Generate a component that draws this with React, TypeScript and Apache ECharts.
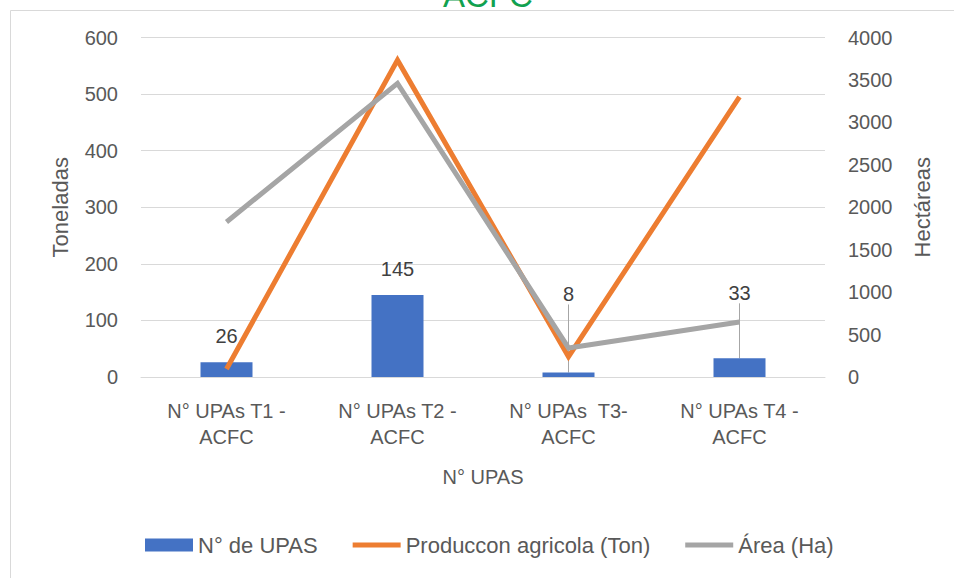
import React, { useEffect, useRef } from "react";
import * as echarts from "echarts";

// Category labels (two lines each, as printed under the axis)
const categories = [
  "N° UPAs T1 -\nACFC",
  "N° UPAs T2 -\nACFC",
  "N° UPAs  T3-\nACFC",
  "N° UPAs T4 -\nACFC",
];

// Number of UPAs per group (bars, left axis)
const upas = [26, 145, 8, 33];
// Agricultural production in tonnes (orange line, left axis)
const produccion = [14, 560, 36, 495];
// Area in hectares (grey line, right axis)
const area = [1826, 3460, 342, 648];

const leftTicks = { min: 0, max: 600, interval: 100 };
const rightTicks = { min: 0, max: 4000, interval: 500 };

// Extra upward shift for the bar labels that sit on leader lines
const labelShift = [0, 0, -52, -39];

const FONT = "Liberation Sans";
const GREY_TEXT = "#595959";
const LINE_ICON = "path://M0,0H50V5H0Z";

export default function App() {
  const ref = useRef<HTMLDivElement>(null);

  useEffect(() => {
    if (!ref.current) return;
    const chart = echarts.init(ref.current, undefined, { renderer: "svg" });

    const barData = upas.map((v, i) => ({
      value: v,
      labelLine: { show: labelShift[i] !== 0 },
    }));

    chart.setOption({
      animation: false,
      backgroundColor: "#ffffff",
      textStyle: { fontFamily: FONT },
      graphic: [
        {
          type: "rect",
          shape: { x: 10.5, y: 10.5, width: 960, height: 600 },
          style: { fill: "none", stroke: "#D9D9D9", lineWidth: 1 },
          silent: true,
        },
        {
          type: "text",
          x: 488,
          y: 12,
          style: {
            text: "ACFC",
            fill: "#11A14F",
            font: `33px "${FONT}"`,
            align: "center",
            verticalAlign: "bottom",
          },
        },
      ],
      grid: { left: 141, right: 129, top: 37.5, bottom: 201, containLabel: false },
      legend: {
        left: 145,
        top: 534,
        padding: 0,
        itemWidth: 48,
        itemHeight: 13,
        itemGap: 35,
        textStyle: { color: GREY_TEXT, fontSize: 22, fontFamily: FONT },
        data: [
          { name: "N° de UPAS", icon: "rect" },
          { name: "Produccon agricola (Ton)", icon: LINE_ICON },
          { name: "Área (Ha)", icon: LINE_ICON },
        ],
      },
      xAxis: {
        type: "category",
        data: categories,
        name: "N° UPAS",
        nameLocation: "middle",
        nameGap: 90,
        nameTextStyle: { color: GREY_TEXT, fontSize: 20, fontFamily: FONT },
        axisLine: { show: true, lineStyle: { color: "#D9D9D9", width: 1 } },
        axisTick: { show: false },
        axisLabel: {
          color: GREY_TEXT,
          fontSize: 20,
          fontFamily: FONT,
          lineHeight: 26,
          margin: 21,
          interval: 0,
        },
      },
      yAxis: [
        {
          type: "value",
          ...leftTicks,
          name: "Toneladas",
          nameLocation: "middle",
          nameRotate: 90,
          nameGap: 70,
          nameTextStyle: { color: GREY_TEXT, fontSize: 22, fontFamily: FONT },
          axisLine: { show: false },
          axisTick: { show: false },
          axisLabel: { color: GREY_TEXT, fontSize: 20, fontFamily: FONT, margin: 23 },
          splitLine: { lineStyle: { color: "#D9D9D9", width: 1 } },
        },
        {
          type: "value",
          ...rightTicks,
          name: "Hectáreas",
          nameLocation: "middle",
          nameRotate: 90,
          nameGap: 86,
          nameTextStyle: { color: GREY_TEXT, fontSize: 22, fontFamily: FONT },
          axisLine: { show: false },
          axisTick: { show: false },
          axisLabel: {
            color: GREY_TEXT,
            fontSize: 20,
            fontFamily: FONT,
            margin: 23,
            formatter: (v: number) => String(v),
          },
          splitLine: { show: false },
        },
      ],
      series: [
        {
          name: "N° de UPAS",
          type: "bar",
          yAxisIndex: 0,
          data: barData,
          barWidth: 52,
          itemStyle: { color: "#4472C4" },
          label: {
            show: true,
            position: "top",
            distance: 16,
            color: "#404040",
            fontSize: 20,
            fontFamily: FONT,
          },
          labelLayout: (params: any) => ({ dy: labelShift[params.dataIndex] || 0 }),
          labelLine: {
            show: false,
            lineStyle: { color: "#A6A6A6", width: 1 },
          },
          z: 2,
        },
        {
          name: "Produccon agricola (Ton)",
          type: "line",
          yAxisIndex: 0,
          data: produccion,
          symbol: "none",
          lineStyle: { color: "#ED7D31", width: 5, join: "miter" },
          itemStyle: { color: "#ED7D31" },
          z: 3,
        },
        {
          name: "Área (Ha)",
          type: "line",
          yAxisIndex: 1,
          data: area,
          symbol: "none",
          lineStyle: { color: "#A5A5A5", width: 5, join: "miter" },
          itemStyle: { color: "#A5A5A5" },
          z: 4,
        },
      ],
    });
    return () => chart.dispose();
  }, []);

  return (
    <div
      ref={ref}
      style={{ position: "fixed", left: 0, top: 0, width: 954, height: 578 }}
    />
  );
}
